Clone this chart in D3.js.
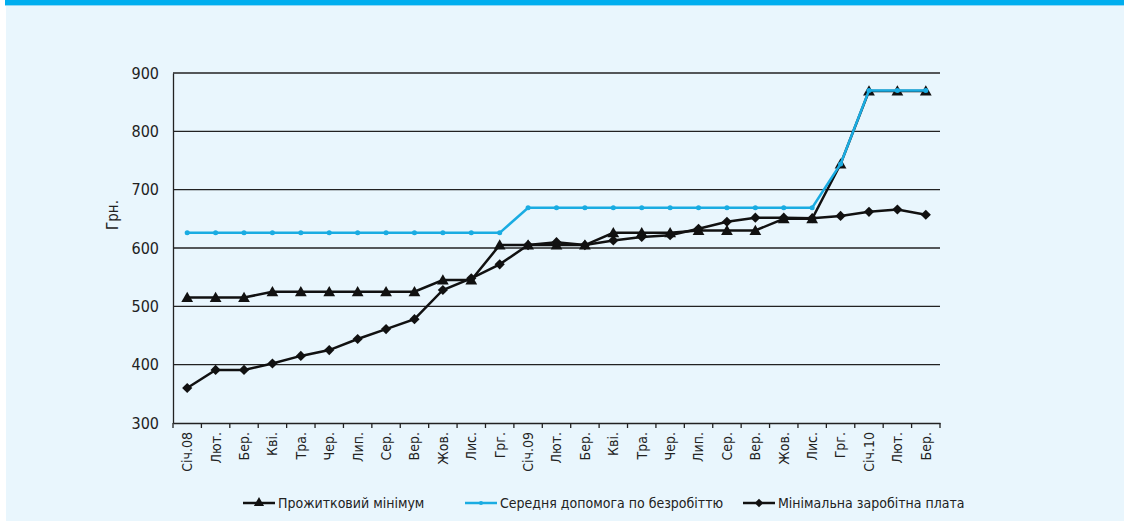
<!DOCTYPE html>
<html>
<head>
<meta charset="utf-8">
<script src="https://cdn.jsdelivr.net/npm/d3@7"></script>
<style>
  body { margin: 0; background: #fff; }
  svg text { font-family: "Liberation Sans Narrow", "DejaVu Sans Condensed", sans-serif; fill: #222; }
</style>
</head>
<body>
<div id="chart"></div>
<script>
// Data
const months = ['Січ.08', 'Лют.', 'Бер.', 'Кві.', 'Тра.', 'Чер.', 'Лип.', 'Сер.', 'Вер.', 'Жов.', 'Лис.', 'Грг.',
  'Січ.09', 'Лют.', 'Бер.', 'Кві.', 'Тра.', 'Чер.', 'Лип.', 'Сер.', 'Вер.', 'Жов.', 'Лис.', 'Грг.',
  'Січ.10', 'Лют.', 'Бер.']
const livingMin = [515, 515, 515, 525, 525, 525, 525, 525, 525, 545, 545, 605,
  605, 605, 605, 626, 626, 626, 630, 630, 630, 650, 650, 744,
  869, 869, 869]
const unemployment = [626, 626, 626, 626, 626, 626, 626, 626, 626, 626, 626, 626,
  669, 669, 669, 669, 669, 669, 669, 669, 669, 669, 669, 744,
  870, 870, 870]
const minWage = [360, 391, 391, 402, 415, 425, 444, 461, 478, 528, 548, 572,
  605, 610, 605, 613, 619, 622, 633, 645, 652, 652, 651, 655,
  662, 666, 657]
const yTicks = [300, 400, 500, 600, 700, 800, 900]
const seriesNames = ['Прожитковий мінімум', 'Середня допомога по безробіттю', 'Мінімальна заробітна плата']

const width = 1124, height = 521
const plot = { left: 173, right: 940, top: 73, bottom: 423 }
const font = '"Liberation Sans Narrow", "DejaVu Sans Condensed", sans-serif'

const svg = d3.select('#chart').append('svg')
  .attr('width', width)
  .attr('height', height)

// frame
svg.append('rect').attr('x', 6).attr('y', 6).attr('width', width - 6).attr('height', height - 6).attr('fill', '#e9f6fd')
svg.append('rect').attr('x', 5).attr('y', 0).attr('width', width - 5).attr('height', 5).attr('fill', '#00aeef')
svg.append('rect').attr('x', 5).attr('y', 5).attr('width', width - 5).attr('height', 1).attr('fill', '#8fd8f6')

// Scales
const idx = months.map((d, i) => i)
const xScale = d3.scaleBand().domain(idx).range([plot.left, plot.right])
const xc = i => xScale(i) + xScale.bandwidth() / 2
const yScale = d3.scaleLinear().domain([300, 900]).range([plot.bottom, plot.top])

// gridlines
svg.append('g').selectAll('line').data(yTicks.slice(1)).join('line')
  .attr('x1', plot.left).attr('x2', plot.right)
  .attr('y1', d => yScale(d)).attr('y2', d => yScale(d))
  .attr('stroke', '#222').attr('stroke-width', 1.3)

// y axis
const yAxis = svg.append('g').attr('transform', `translate(${plot.left},0)`)
  .call(d3.axisLeft(yScale).tickValues(yTicks).tickSize(0).tickPadding(14))
yAxis.select('.domain').attr('stroke', '#222').attr('stroke-width', 1.3)
yAxis.selectAll('text').attr('font-size', 16).attr('font-family', font).attr('fill', '#222')

svg.append('text')
  .attr('transform', `translate(118,215) rotate(-90)`)
  .attr('text-anchor', 'middle')
  .attr('font-size', 15)
  .text('Грн.')

// x axis
const xAxis = svg.append('g').attr('transform', `translate(0,${plot.bottom})`)
  .call(d3.axisBottom(xScale).tickSize(0).tickFormat(i => months[i]))
xAxis.select('.domain').attr('stroke', '#222').attr('stroke-width', 1.3)
xAxis.selectAll('text')
  .attr('font-size', 14)
  .attr('font-family', font)
  .attr('fill', '#222')
  .attr('transform', 'rotate(-90)')
  .attr('text-anchor', 'end')
  .attr('x', -9).attr('y', 0).attr('dy', '0.35em')
// tick marks on band boundaries
svg.append('g').selectAll('line').data(d3.range(months.length + 1)).join('line')
  .attr('x1', i => plot.left + i * xScale.step()).attr('x2', i => plot.left + i * xScale.step())
  .attr('y1', plot.bottom).attr('y2', plot.bottom + 5)
  .attr('stroke', '#222').attr('stroke-width', 1.3)

const lineGenerator = d3.line()
  .x((d, i) => xc(i))
  .y(d => yScale(d))

const triangle = d3.symbol().type(d3.symbolTriangle).size(60)
const diamond = d3.symbol().type(d3.symbolSquare).size(52)
const dot = d3.symbol().type(d3.symbolCircle).size(20)

// Прожитковий мінімум
svg.append('path').datum(livingMin).attr('d', lineGenerator)
  .attr('fill', 'none').attr('stroke', '#111').attr('stroke-width', 2.5)
svg.append('g').selectAll('path').data(livingMin).join('path')
  .attr('d', triangle).attr('transform', (d, i) => `translate(${xc(i)},${yScale(d) + 1})`).attr('fill', '#111')

// Мінімальна заробітна плата
svg.append('path').datum(minWage).attr('d', lineGenerator)
  .attr('fill', 'none').attr('stroke', '#111').attr('stroke-width', 2.5)
svg.append('g').selectAll('path').data(minWage).join('path')
  .attr('d', diamond).attr('transform', (d, i) => `translate(${xc(i)},${yScale(d)}) rotate(45)`).attr('fill', '#111')

// Середня допомога по безробіттю
svg.append('path').datum(unemployment).attr('d', lineGenerator)
  .attr('fill', 'none').attr('stroke', '#1aace2').attr('stroke-width', 2.5)
svg.append('g').selectAll('path').data(unemployment).join('path')
  .attr('d', dot).attr('transform', (d, i) => `translate(${xc(i)},${yScale(d)})`).attr('fill', '#1aace2')

// Legend
const legendItems = [
  { name: seriesNames[0], x: 243, color: '#111', sym: d3.symbol().type(d3.symbolTriangle).size(45), rot: 0 },
  { name: seriesNames[1], x: 465, color: '#1aace2', sym: d3.symbol().type(d3.symbolCircle).size(14), rot: 0 },
  { name: seriesNames[2], x: 743, color: '#111', sym: d3.symbol().type(d3.symbolSquare).size(36), rot: 45 }
]
const legendY = 503
const lg = svg.append('g').selectAll('g').data(legendItems).join('g')
  .attr('transform', d => `translate(${d.x},${legendY})`)
lg.append('line').attr('x1', 0).attr('x2', 32).attr('y1', 0).attr('y2', 0)
  .attr('stroke', d => d.color).attr('stroke-width', 2.5)
lg.append('path').attr('d', d => d.sym()).attr('transform', d => `translate(16,0) rotate(${d.rot})`).attr('fill', d => d.color)
lg.append('text').attr('x', 35).attr('dy', '0.35em').attr('font-size', 14).text(d => d.name)
</script>
</body>
</html>
